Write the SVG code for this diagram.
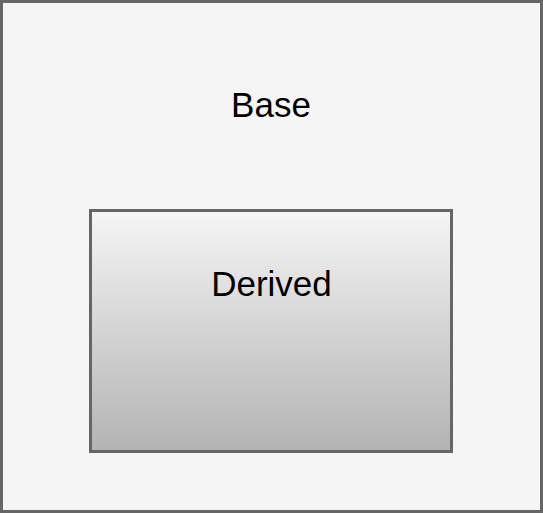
<svg xmlns="http://www.w3.org/2000/svg" width="543" height="513" viewBox="0 0 543 513">
<defs>
<linearGradient id="g" x1="0" y1="0" x2="0" y2="1">
<stop offset="0" stop-color="#f5f5f5"/>
<stop offset="1" stop-color="#b3b3b3"/>
</linearGradient>
<style>
.box{stroke:#666666;stroke-width:3}
.lbl{font-family:"Liberation Sans",Arial,sans-serif;font-size:35px;fill:#000;text-anchor:middle}
</style>
</defs>
<g id="base">
<rect class="box" x="1.5" y="1.5" width="540" height="510" fill="#f5f5f5"/>
<text class="lbl" x="271" y="116.5">Base</text>
</g>
<g id="derived">
<rect class="box" x="90.5" y="210.5" width="361" height="241" fill="url(#g)"/>
<text class="lbl" x="271.5" y="295.5">Derived</text>
</g>
<g id="connectors"/>
</svg>
